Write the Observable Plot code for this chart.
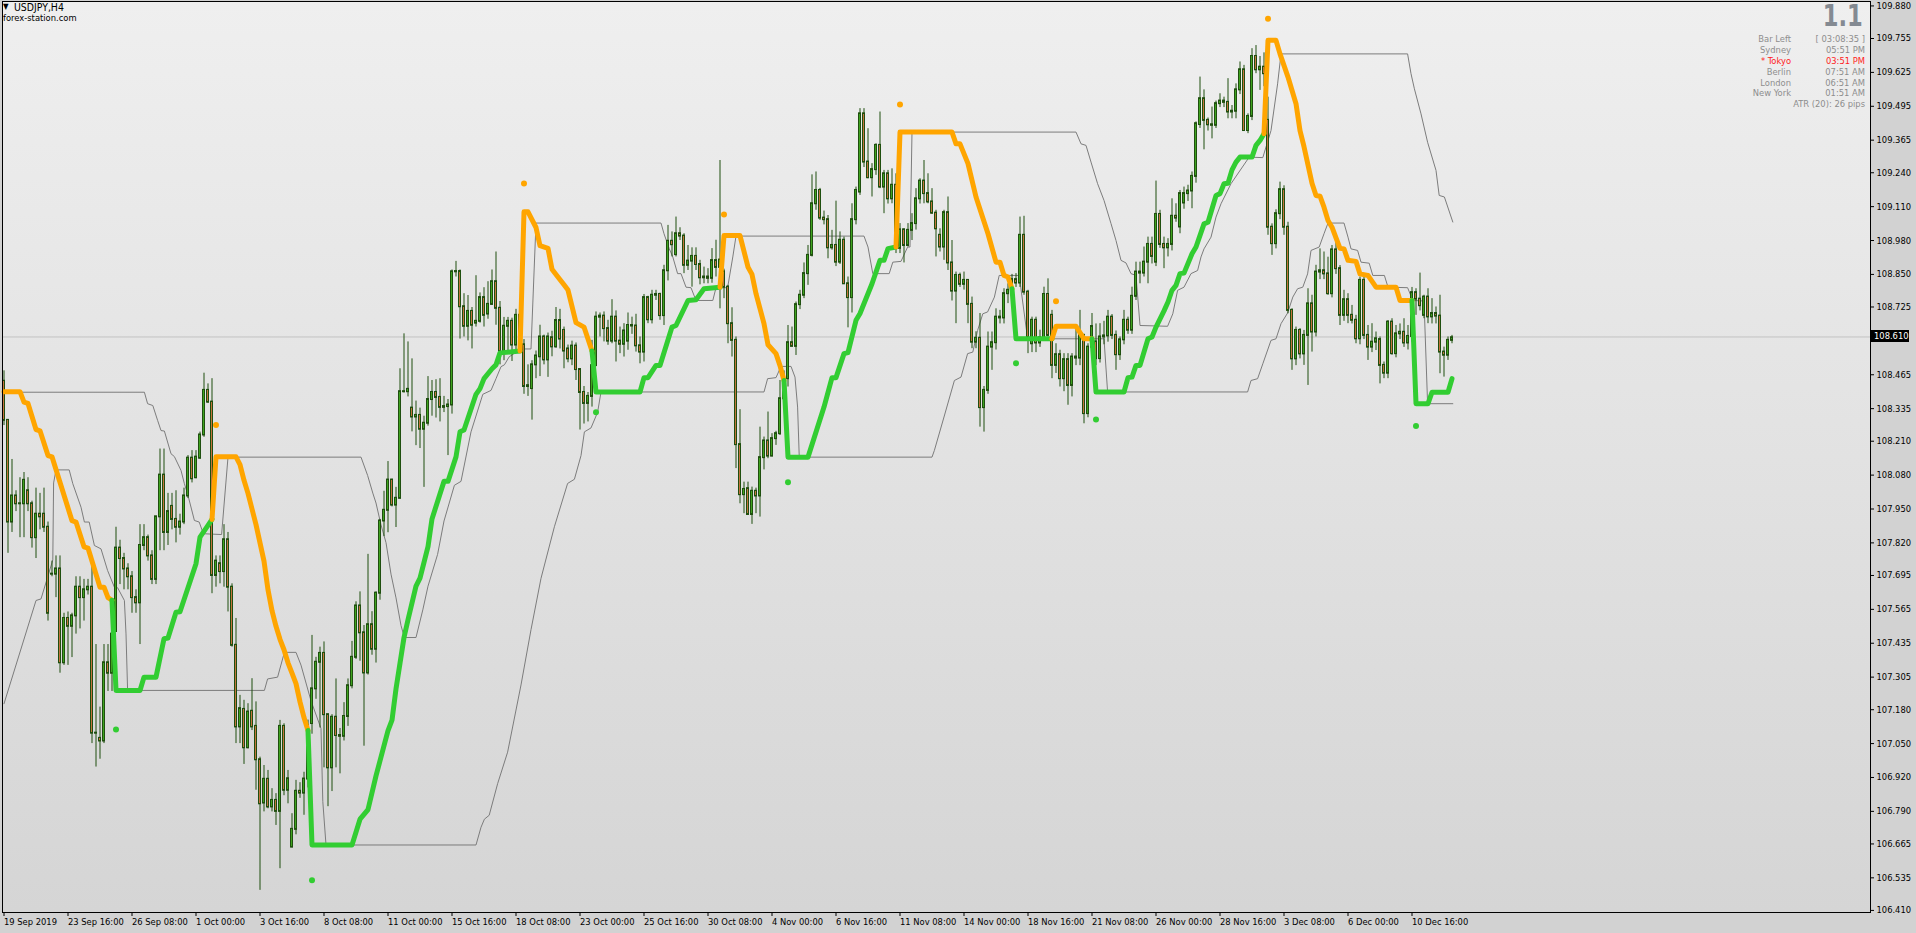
<!DOCTYPE html>
<html><head><meta charset="utf-8">
<script src="https://cdn.jsdelivr.net/npm/d3@7"></script>
<script src="https://cdn.jsdelivr.net/npm/@observablehq/plot@0.6"></script>
<style>
html,body{margin:0;padding:0;background:#d2d2d2;overflow:hidden;}
#wrap{position:relative;width:1916px;height:933px;}
.ov{position:absolute;white-space:nowrap;line-height:1;}
</style></head><body><div id="wrap"></div>
<script>
// ---------- DATA ----------
const symbolTitle = "USDJPY,H4";
const siteName = "forex-station.com";
const lastPrice = 108.610;
const priceTicks = [109.880,109.755,109.625,109.495,109.365,109.240,109.110,108.980,108.850,108.725,108.465,108.335,108.210,108.080,107.950,107.820,107.695,107.565,107.435,107.305,107.180,107.050,106.920,106.790,106.665,106.535,106.410];
const tickBars = [0,16,32,48,64,80,96,112,128,144,160,176,192,208,224,240,256,272,288,304,320,336,352];
const dateLabels = ["19 Sep 2019","23 Sep 16:00","26 Sep 08:00","1 Oct 00:00","3 Oct 16:00","8 Oct 08:00","11 Oct 00:00","15 Oct 16:00","18 Oct 08:00","23 Oct 00:00","25 Oct 16:00","30 Oct 08:00","4 Nov 00:00","6 Nov 16:00","11 Nov 08:00","14 Nov 00:00","18 Nov 16:00","21 Nov 08:00","26 Nov 00:00","28 Nov 16:00","3 Dec 08:00","6 Dec 00:00","10 Dec 16:00"];

const opens = [
108.44,108.29,107.90,108.00,107.97,107.97,108.02,107.97,107.84,107.93,
107.93,107.88,107.70,107.70,107.72,107.36,107.53,107.50,107.54,107.65,
107.61,107.64,107.65,107.09,107.07,107.06,107.36,107.32,107.48,107.80,
107.76,107.72,107.69,107.61,107.59,107.81,107.84,107.77,107.68,107.92,
108.08,107.86,107.96,107.91,107.88,107.90,108.00,108.145,108.07,108.145,
108.234,108.405,108.36,107.695,107.74,107.71,107.832,107.65,107.427,107.114,
107.181,107.034,107.174,107.116,106.988,106.822,106.913,106.807,106.832,106.79,
107.116,106.871,106.653,106.721,106.867,106.86,106.914,107.127,107.26,107.362,
107.396,107.161,106.957,107.151,107.081,107.078,107.154,107.272,107.381,107.578,
107.475,107.321,107.506,107.412,107.627,107.904,107.945,108.061,107.965,107.991,
108.40,108.40,108.337,108.303,108.309,108.256,108.279,108.37,108.397,108.378,
108.34,108.343,108.349,108.86,108.861,108.726,108.651,108.708,108.663,108.67,
108.761,108.698,108.735,108.822,108.72,108.556,108.651,108.67,108.579,108.693,
108.58,108.42,108.412,108.503,108.534,108.61,108.522,108.607,108.572,108.673,
108.635,108.564,108.526,108.575,108.485,108.397,108.355,108.382,108.50,108.686,
108.69,108.642,108.594,108.686,108.594,108.582,108.594,108.654,108.652,108.576,
108.552,108.761,108.676,108.77,108.773,108.692,108.864,108.977,108.926,109.006,
108.997,108.885,108.901,108.919,108.888,108.837,108.84,108.835,108.903,108.877,
108.86,108.801,108.661,108.597,108.197,108.005,108.028,107.929,108.018,108.0,
108.147,108.211,108.153,108.22,108.239,108.373,108.45,108.588,108.574,108.734,
108.77,108.853,108.923,109.121,109.172,109.066,109.06,108.952,108.961,108.897,
108.981,108.814,108.761,109.06,109.166,109.466,109.281,109.221,109.252,109.345,
109.185,109.236,109.14,109.192,108.95,109.021,108.961,109.019,109.045,109.14,
109.208,109.16,109.128,109.085,109.0,108.955,109.087,108.894,108.786,108.846,
108.812,108.827,108.735,108.59,108.605,108.339,108.405,108.571,108.588,108.686,
108.683,108.776,108.789,108.83,108.817,109.0,108.782,108.584,108.674,108.587,
108.607,108.773,108.693,108.501,108.542,108.45,108.523,108.424,108.533,108.529,
108.616,108.316,108.571,108.591,108.527,108.61,108.614,108.686,108.616,108.542,
108.599,108.674,108.636,108.766,108.859,108.855,108.897,108.965,108.897,109.08,
108.965,108.952,108.965,109.073,109.032,109.124,109.16,109.17,109.226,109.425,
109.524,109.441,109.424,109.422,109.505,109.515,109.51,109.473,109.476,109.558,
109.635,109.402,109.456,109.686,109.635,109.645,109.441,109.031,108.968,109.083,
109.175,109.031,108.712,108.526,108.635,108.545,108.616,108.737,108.629,108.859,
108.864,108.852,108.776,108.944,108.872,108.693,108.753,108.693,108.674,108.603,
108.827,108.616,108.571,108.59,108.60,108.501,108.471,108.667,108.546,108.622,
108.628,108.587,108.612,108.78,108.755,108.693,108.763,108.687,108.70,108.69,
108.552,108.54,108.597];

const highs = [
108.48,108.29,108.14,108.02,108.07,108.09,108.07,107.98,108.03,108.01,
108.03,107.90,107.75,107.77,107.77,107.55,107.555,107.55,107.69,107.69,
107.68,107.68,107.75,107.43,107.19,107.43,107.43,107.51,107.88,107.83,
107.78,107.74,107.71,107.64,107.89,107.89,107.85,107.79,107.92,108.18,
108.18,108.01,108.01,108.02,107.93,108.03,108.155,108.174,108.174,108.245,
108.471,108.43,108.45,107.77,107.77,107.89,107.86,107.663,107.53,107.235,
107.216,107.203,107.299,107.21,106.998,106.966,106.947,106.877,106.858,107.139,
107.126,106.947,106.781,106.909,106.90,106.94,107.14,107.465,107.381,107.42,
107.44,107.161,107.161,107.298,107.108,107.207,107.298,107.442,107.594,107.632,
107.503,107.776,107.556,107.632,107.91,108.018,108.132,108.064,108.033,108.488,
108.622,108.591,108.526,108.364,108.337,108.306,108.458,108.443,108.446,108.45,
108.382,108.37,108.867,108.90,108.867,108.776,108.769,108.723,108.845,108.779,
108.799,108.822,108.867,108.936,108.746,108.685,108.685,108.682,108.716,108.75,
108.60,108.503,108.519,108.556,108.655,108.617,108.625,108.632,108.723,108.716,
108.648,108.579,108.594,108.587,108.488,108.42,108.397,108.597,108.706,108.702,
108.706,108.674,108.753,108.71,108.648,108.661,108.702,108.686,108.697,108.61,
108.773,108.766,108.789,108.789,108.778,108.885,109.038,109.013,109.07,109.029,
109.006,108.961,108.952,108.952,108.904,108.878,108.872,108.949,108.981,109.287,
108.87,108.808,108.722,108.61,108.331,108.053,108.053,108.034,108.03,108.264,
108.226,108.322,108.239,108.248,108.443,108.48,108.654,108.648,108.744,108.789,
108.894,108.961,109.232,109.243,109.18,109.093,109.076,109.019,109.131,109.013,
108.993,108.84,109.121,109.185,109.486,109.486,109.409,109.275,109.351,109.473,
109.249,109.249,109.255,109.236,109.045,109.025,109.045,109.083,109.179,109.217,
109.287,109.236,109.179,109.096,109.025,109.096,109.147,108.98,108.859,108.855,
108.859,108.827,108.763,108.63,108.70,108.42,108.629,108.629,108.718,108.712,
108.795,108.814,108.85,108.853,109.07,109.073,108.789,108.686,108.686,108.636,
108.801,108.833,108.712,108.584,108.559,108.546,108.546,108.546,108.642,108.712,
108.62,108.584,108.70,108.66,108.661,108.67,108.712,108.696,108.633,108.61,
108.712,108.686,108.801,108.897,108.897,108.955,108.993,108.993,109.208,109.096,
108.993,108.987,109.14,109.121,109.172,109.185,109.192,109.243,109.435,109.607,
109.558,109.45,109.492,109.515,109.543,109.53,109.601,109.498,109.581,109.665,
109.652,109.466,109.716,109.728,109.686,109.70,109.53,109.044,109.098,109.204,
109.19,109.05,108.718,108.648,108.642,108.635,108.795,108.77,108.885,108.948,
108.936,108.916,108.961,108.974,108.884,108.789,108.776,108.731,108.693,108.84,
108.84,108.654,108.661,108.629,108.61,108.514,108.673,108.68,108.654,108.66,
108.68,108.654,108.80,108.795,108.855,108.77,108.795,108.757,108.725,108.77,
108.571,108.61,108.616];

const lows = [
108.27,107.78,107.86,107.94,107.84,107.84,107.94,107.80,107.76,107.87,
107.86,107.52,107.69,107.61,107.32,107.35,107.35,107.38,107.47,107.49,
107.52,107.62,107.05,106.96,106.99,107.05,107.25,107.25,107.48,107.66,
107.64,107.64,107.55,107.55,107.43,107.79,107.75,107.66,107.66,107.79,
107.79,107.81,107.87,107.82,107.85,107.89,107.99,108.05,108.066,108.14,
108.225,108.355,107.625,107.65,107.663,107.65,107.555,107.42,107.05,107.05,
106.97,107.03,107.10,106.871,106.487,106.788,106.80,106.788,106.736,106.57,
106.85,106.819,106.65,106.70,106.84,106.775,106.88,107.086,107.22,107.11,
106.957,106.808,106.866,106.957,106.934,107.06,107.116,107.26,107.373,107.366,
107.04,107.313,107.389,107.359,107.60,107.844,107.859,107.958,107.879,107.988,
108.395,108.38,108.246,108.193,108.182,108.033,108.268,108.306,108.299,108.284,
108.32,108.155,108.314,108.84,108.602,108.61,108.595,108.564,108.648,108.663,
108.648,108.678,108.731,108.655,108.503,108.519,108.556,108.516,108.549,108.55,
108.39,108.382,108.291,108.45,108.458,108.503,108.455,108.534,108.567,108.564,
108.488,108.511,108.50,108.443,108.253,108.276,108.284,108.341,108.50,108.61,
108.591,108.578,108.584,108.514,108.546,108.533,108.559,108.62,108.552,108.507,
108.514,108.661,108.66,108.75,108.674,108.654,108.825,108.917,108.917,108.98,
108.853,108.865,108.801,108.865,108.81,108.814,108.814,108.816,108.84,108.718,
108.757,108.584,108.533,108.105,107.97,107.932,107.926,107.891,107.932,107.919,
108.10,108.143,108.15,108.194,108.232,108.34,108.418,108.571,108.539,108.715,
108.757,108.808,108.917,109.096,109.057,109.04,108.91,108.943,108.88,108.888,
108.812,108.645,108.702,109.04,109.153,109.26,109.217,109.147,109.23,109.179,
109.083,109.12,109.121,108.93,108.93,108.894,108.955,108.98,109.02,109.12,
109.121,109.121,109.08,108.917,108.936,108.904,108.865,108.748,108.661,108.80,
108.79,108.661,108.565,108.565,108.264,108.245,108.39,108.482,108.56,108.66,
108.66,108.738,108.76,108.80,108.80,108.77,108.546,108.55,108.55,108.57,
108.60,108.61,108.45,108.47,108.418,108.40,108.348,108.38,108.50,108.50,
108.277,108.30,108.55,108.50,108.51,108.58,108.59,108.60,108.482,108.52,
108.58,108.62,108.62,108.75,108.814,108.84,108.814,108.89,108.88,108.95,
108.872,108.917,108.94,109.05,109.006,109.10,109.13,109.102,109.20,109.41,
109.328,109.40,109.37,109.41,109.49,109.49,109.447,109.447,109.447,109.54,
109.40,109.39,109.44,109.62,109.556,109.57,109.0,108.923,108.948,109.06,
109.0,108.699,108.482,108.50,108.526,108.501,108.424,108.552,108.61,108.83,
108.83,108.77,108.76,108.85,108.654,108.67,108.661,108.66,108.584,108.58,
108.60,108.52,108.55,108.558,108.43,108.45,108.45,108.54,108.53,108.60,
108.57,108.56,108.59,108.693,108.71,108.68,108.661,108.66,108.66,108.469,
108.456,108.52,108.584];

const closes = [
108.29,107.90,108.00,107.97,107.97,108.06,107.97,107.84,107.93,107.92,
107.88,107.55,107.70,107.72,107.36,107.53,107.50,107.54,107.65,107.61,
107.64,107.65,107.09,107.09,107.06,107.36,107.32,107.47,107.80,107.76,
107.72,107.69,107.61,107.59,107.81,107.84,107.77,107.68,107.92,108.08,
107.86,107.94,107.91,107.88,107.90,108.00,108.145,108.066,108.149,108.234,
108.405,108.36,107.695,107.75,107.71,107.832,107.65,107.427,107.114,107.184,
107.034,107.171,107.114,106.988,106.819,106.913,106.807,106.832,106.79,107.116,
106.871,106.915,106.721,106.867,106.86,106.914,107.12,107.26,107.362,107.396,
107.161,106.957,107.151,107.081,107.078,107.154,107.272,107.381,107.578,107.475,
107.321,107.506,107.412,107.627,107.904,107.945,108.061,107.965,107.991,108.40,
108.40,108.409,108.303,108.309,108.256,108.279,108.37,108.397,108.378,108.34,
108.343,108.349,108.86,108.861,108.726,108.651,108.708,108.655,108.67,108.761,
108.693,108.735,108.822,108.72,108.556,108.651,108.67,108.579,108.693,108.58,
108.42,108.423,108.503,108.537,108.61,108.522,108.61,108.572,108.673,108.602,
108.556,108.526,108.575,108.485,108.397,108.355,108.382,108.50,108.686,108.69,
108.642,108.594,108.686,108.594,108.582,108.633,108.654,108.652,108.576,108.552,
108.761,108.676,108.77,108.773,108.692,108.864,108.977,108.964,109.006,108.997,
108.885,108.901,108.919,108.888,108.837,108.84,108.835,108.903,108.877,108.905,
108.801,108.661,108.597,108.197,108.005,108.025,107.929,108.018,108.0,108.147,
108.211,108.153,108.22,108.239,108.373,108.45,108.588,108.574,108.734,108.77,
108.853,108.923,109.121,109.172,109.066,109.06,108.952,108.961,108.897,108.981,
108.814,108.761,109.06,109.172,109.466,109.281,109.221,109.252,109.345,109.185,
109.236,109.14,109.192,108.95,109.021,108.961,109.019,109.045,109.14,109.208,
109.16,109.128,109.085,109.025,108.955,109.087,108.894,108.786,108.846,108.812,
108.827,108.735,108.59,108.605,108.339,108.405,108.571,108.588,108.686,108.683,
108.776,108.789,108.83,108.817,109.0,108.782,108.61,108.674,108.587,108.607,
108.773,108.616,108.501,108.542,108.45,108.523,108.424,108.533,108.529,108.616,
108.316,108.571,108.65,108.527,108.61,108.614,108.686,108.616,108.542,108.599,
108.674,108.636,108.766,108.859,108.855,108.897,108.965,108.919,109.08,108.965,
108.952,108.965,109.073,109.066,109.16,109.16,109.17,109.226,109.428,109.524,
109.441,109.424,109.422,109.505,109.515,109.51,109.473,109.476,109.558,109.635,
109.402,109.456,109.686,109.635,109.645,109.62,109.031,108.968,109.083,109.175,
109.031,108.712,108.526,108.635,108.545,108.616,108.737,108.629,108.859,108.864,
108.852,108.776,108.944,108.872,108.693,108.753,108.693,108.674,108.603,108.827,
108.616,108.571,108.59,108.603,108.501,108.471,108.667,108.546,108.622,108.628,
108.587,108.612,108.78,108.755,108.73,108.763,108.687,108.70,108.69,108.552,
108.54,108.597,108.607];

// trailing stop line: [bar, price] vertices, by leg
const down1 = [[0,108.40],[4,108.40],[5,108.36],[6,108.355],[8,108.255],[9,108.25],[11,108.155],[12,108.15],[17,107.905],[18,107.90],[20,107.805],[21,107.80],[24,107.65],[25,107.65],[26,107.61],[27,107.60]];
const up1 = [[27,107.60],[28,107.254],[34,107.254],[35,107.305],[38,107.305],[40,107.452],[41,107.455],[43,107.554],[44,107.556],[48,107.74],[49,107.842],[51,107.887],[52,107.91]];
const down2 = [[52,107.91],[53,108.15],[58,108.15],[59,108.12],[60,108.06],[61,108.01],[62,107.95],[63,107.89],[64,107.82],[65,107.75],[66,107.64],[67,107.56],[68,107.50],[69,107.45],[70,107.41],[71,107.36],[72,107.32],[73,107.28],[74,107.21],[75,107.15],[76,107.10]];
const up2 = [[76,107.10],[77,106.661],[87,106.661],[89,106.76],[91,106.797],[93,106.926],[96,107.10],[97,107.14],[98,107.26],[100,107.457],[101,107.525],[103,107.654],[104,107.685],[106,107.806],[107,107.912],[110,108.056],[111,108.056],[113,108.15],[114,108.246],[115,108.253],[118,108.39],[119,108.412],[120,108.45],[122,108.488],[123,108.503],[124,108.549],[129,108.556]];
const down3 = [[129,108.556],[130,109.09],[131,109.09],[133,109.03],[134,108.96],[136,108.95],[137,108.87],[138,108.85],[140,108.81],[141,108.79],[143,108.665],[145,108.648],[147,108.556]];
const up3 = [[147,108.556],[148,108.399],[159,108.399],[160,108.454],[161,108.454],[163,108.501],[164,108.501],[167,108.648],[168,108.654],[171,108.75],[173,108.753],[175,108.795],[179,108.801]];
const down4 = [[179,108.801],[180,108.999],[184,108.999],[186,108.878],[187,108.85],[188,108.776],[190,108.661],[191,108.58],[193,108.546],[194,108.50],[195,108.443]];
const up4 = [[195,108.443],[196,108.149],[201,108.149],[205,108.341],[207,108.454],[208,108.454],[210,108.546],[211,108.55],[213,108.674],[214,108.70],[217,108.814],[219,108.904],[220,108.904],[221,108.949],[223,108.955]];
const down5 = [[223,108.955],[224,109.396],[237,109.396],[238,109.351],[239,109.351],[241,109.275],[243,109.147],[246,109.006],[248,108.897],[249,108.897],[250,108.846],[251,108.84],[252,108.795]];
const up5 = [[252,108.795],[253,108.603],[262,108.603]];
const down6 = [[262,108.603],[263,108.651],[268,108.651],[270,108.603],[272,108.603]];
const up6 = [[272,108.603],[273,108.399],[280,108.399],[281,108.454],[282,108.456],[283,108.501],[284,108.501],[286,108.603],[287,108.61],[288,108.648],[290,108.71],[291,108.744],[292,108.789],[293,108.808],[294,108.853],[295,108.855],[297,108.929],[298,108.955],[300,109.044],[301,109.05],[303,109.153],[304,109.16],[305,109.198],[306,109.20],[307,109.251],[308,109.281],[309,109.30],[312,109.30],[313,109.345],[314,109.364],[315,109.39]];
const down7 = [[315,109.39],[316,109.748],[318,109.748],[319,109.696],[321,109.607],[323,109.505],[324,109.402],[325,109.34],[327,109.2],[328,109.153],[329,109.15],[330,109.108],[331,109.057],[332,109.031],[333,108.99],[334,108.95],[335,108.948],[336,108.904],[338,108.90],[339,108.852],[341,108.846],[343,108.801],[348,108.801],[349,108.75],[352,108.75]];
const up7 = [[352,108.75],[353,108.354],[356,108.354],[357,108.398],[361,108.398],[362,108.45]];

const signalDown = [[53,108.272],[130,109.199],[180,109.08],[224,109.502],[263,108.747],[316,109.831]];
const signalUp = [[28,107.104],[77,106.526],[148,108.321],[196,108.053],[253,108.509],[273,108.293],[353,108.268]];

const channelUpper = [[0,108.398],[35.1,108.398],[35.9,108.354],[37.2,108.347],[38.4,108.29],[39.25,108.251],[40.1,108.249],[41.75,108.162],[42.6,108.151],[44.25,108.098],[45.1,108.047],[45.9,108.008],[47.6,107.906],[48.8,107.90],[49.7,107.861],[50,107.855],[54.4,107.852],[56,108.149],[89.25,108.149],[90.9,108.079],[92.2,108.011],[93,107.973],[94.25,107.889],[95.5,107.821],[96.75,107.70],[98,107.609],[99.25,107.503],[100.1,107.457],[103,107.457],[104.7,107.563],[106,107.654],[108.4,107.776],[110,107.904],[112.6,108.041],[114.25,108.056],[116.75,108.246],[119.7,108.39],[121.75,108.405],[123,108.45],[124.25,108.496],[125.1,108.503],[126.3,108.534],[129.25,108.564],[131.75,108.564],[133,109.047],[164.25,109.047],[165,109.006],[166.3,108.949],[167.2,108.917],[168.4,108.853],[169.25,108.853],[170.5,108.801],[171.75,108.799],[173,108.75],[177.2,108.75],[178,108.799],[180.9,108.799],[182.2,108.917],[183,108.997],[215,108.997],[216,108.955],[217.2,108.853],[221.3,108.853],[222.2,108.897],[224.25,108.90],[225.9,108.955],[226.5,108.955],[227,109.396],[268,109.396],[269.25,109.351],[270.5,109.345],[271.75,109.281],[273.4,109.198],[275,109.134],[276.75,109.045],[278,108.98],[279.25,108.904],[280.5,108.894],[281.75,108.853],[283,108.846],[284,108.654],[290.9,108.651],[292.2,108.699],[293.4,108.789],[295,108.801],[296.75,108.853],[298.4,108.865],[299.25,108.917],[300,108.948],[301.75,108.993],[303,109.07],[304.25,109.121],[306.75,109.198],[311.3,109.30],[314.7,109.298],[316.75,109.402],[318.4,109.581],[319.25,109.696],[350.9,109.696],[351.75,109.62],[352.6,109.562],[354.25,109.466],[355.9,109.357],[358,109.249],[358.8,109.153],[360.1,109.147],[362.2,109.051]];
const channelLower = [[0,107.203],[8,107.599],[9.25,107.605],[10.9,107.688],[12.2,107.755],[12.4,108.05],[13,108.10],[16.3,108.10],[17.2,108.047],[19.25,107.957],[20.1,107.90],[21.3,107.90],[22.6,107.81],[24.25,107.797],[25.9,107.714],[27.6,107.65],[28.4,107.648],[30.1,107.599],[30.5,107.471],[30.9,107.254],[65.1,107.254],[65.9,107.298],[68.4,107.305],[70.1,107.40],[73,107.40],[74.25,107.351],[76.75,107.214],[79.25,107.108],[79.7,106.828],[80.5,106.661],[118,106.661],[119.25,106.729],[120.1,106.76],[121.3,106.775],[123.4,106.896],[125.9,107.017],[129.25,107.275],[131.75,107.487],[134.25,107.684],[137.6,107.882],[140.9,108.048],[142.6,108.064],[144.25,108.155],[145.1,108.246],[146.75,108.261],[148.4,108.321],[149.25,108.399],[190,108.399],[190.9,108.45],[193,108.454],[194.25,108.497],[196.75,108.497],[197.75,108.456],[198.4,108.341],[198.8,108.156],[199.25,108.149],[232,108.149],[232.6,108.175],[235,108.303],[237.6,108.443],[239.25,108.456],[240.9,108.546],[242.2,108.552],[243.4,108.635],[244.7,108.699],[245.9,108.706],[247.6,108.763],[248.8,108.846],[253.8,108.846],[255.9,108.603],[275,108.603],[275.9,108.399],[310.9,108.399],[311.75,108.443],[313.4,108.45],[314.7,108.507],[316.75,108.597],[318,108.603],[319.25,108.661],[320.9,108.702],[322.2,108.763],[323.4,108.795],[324.7,108.801],[325.9,108.852],[326.75,108.942],[328.8,108.955],[330,109.006],[331,109.047],[335,109.047],[336,108.993],[336.75,108.948],[338.4,108.942],[339.25,108.897],[341.3,108.893],[342.2,108.846],[345.1,108.846],[346,108.801],[350.9,108.799],[352.2,108.75],[355,108.748],[355.9,108.354],[362.2,108.354]];

const infoNames = ["Bar Left","Sydney","* Tokyo","Berlin","London","New York"];
const infoValues = ["[ 03:08:35 ]","05:51 PM","03:51 PM","07:51 AM","06:51 AM","01:51 AM"];
const infoHighlight = [false,false,true,false,false,false];
const atrText = "ATR (20): 26 pips";
const spreadText = "1.1";

// ---------- STYLE ----------
const C = {orange:"#ffa500", green:"#32cd32", wick:"#1f4f0f", bull:"#3fa31f", bear:"#c4733c", gray:"#7c7c7c", info:"#8d8d8d", red:"#ff1c1c"};
function fontOK(name){
  const ctx=document.createElement("canvas").getContext("2d");
  const s="109.880 Sep 16:00 wmi";
  ctx.font="40px monospace"; const a=ctx.measureText(s).width;
  ctx.font=`40px "${name}", monospace`; const b=ctx.measureText(s).width;
  return Math.abs(a-b)>0.5;
}
let FF, FS;
if (fontOK("Liberation Sans Narrow")) {FF='"Liberation Sans Narrow", sans-serif'; FS=11;}
else if (fontOK("DejaVu Sans Condensed")) {FF='"DejaVu Sans Condensed", sans-serif'; FS=9.3;}
else {FF='"Liberation Sans", Arial, sans-serif'; FS=9.4;}
const BIG = 30;

// ---------- BUILD ----------
const bars = d3.range(opens.length).map(i => ({i, o:opens[i], h:highs[i], l:lows[i], c:closes[i]}));
const legs = [[down1,"down"],[up1,"up"],[down2,"down"],[up2,"up"],[down3,"down"],[up3,"up"],[down4,"down"],[up4,"up"],[down5,"down"],[up5,"up"],[down6,"down"],[up6,"up"],[down7,"down"],[up7,"up"]];
const trendRows = legs.flatMap(([pts,dir],k) => pts.map(([i,p]) => ({i,p,k,col: dir==="up"?C.green:C.orange})));
const dotRows = signalDown.map(([i,p])=>({i,p,col:C.orange})).concat(signalUp.map(([i,p])=>({i,p,col:C.green})));

const W=1916, H=933, mL=2, mR=46, mT=1, mB=21;
const marks = [
  Plot.frame({fill:"url(#bgGrad)", stroke:null}),
  Plot.ruleY([lastPrice], {stroke:"#c2c2c2", strokeWidth:1}),
  Plot.line(channelUpper, {x:d=>d[0], y:d=>d[1], stroke:C.gray, strokeWidth:1}),
  Plot.line(channelLower, {x:d=>d[0], y:d=>d[1], stroke:C.gray, strokeWidth:1}),
  Plot.ruleX(bars, {x:"i", y1:d=>Math.min(d.l,d.o,d.c), y2:d=>Math.max(d.h,d.o,d.c), stroke:C.wick, strokeWidth:1}),
  Plot.rect(bars, {x1:d=>d.i-0.25, x2:d=>d.i+0.25, y1:"o", y2:"c", insetTop:-0.5, insetBottom:-0.5, fill:d=>d.c>=d.o?C.bull:C.bear, stroke:C.wick, strokeWidth:1}),
  Plot.line(trendRows, {x:"i", y:"p", z:"k", stroke:"col", strokeWidth:5, strokeLinejoin:"round", strokeLinecap:"round"}),
  Plot.dot(dotRows, {x:"i", y:"p", fill:"col", r:3, stroke:null}),
  Plot.frame({stroke:"#000", strokeWidth:1})
];
const useAxisMarks = typeof Plot.axisX === "function";
if (useAxisMarks) {
  marks.push(Plot.axisY(priceTicks, {anchor:"right", tickSize:3, tickPadding:3, tickFormat:d=>d.toFixed(3), label:null, stroke:"#000"}));
  marks.push(Plot.axisX(tickBars, {anchor:"bottom", tickSize:4, tickPadding:2, textAnchor:"start", tickFormat:d=>dateLabels[tickBars.indexOf(d)], label:null, stroke:"#000"}));
}
const chart = Plot.plot({
  width:W, height:H, marginLeft:mL, marginRight:mR, marginTop:mT, marginBottom:mB,
  x:{type:"linear", domain:[-0.375, 466.625], ...(useAxisMarks?{axis:null}:{axis:"bottom", ticks:tickBars, tickSize:4, tickPadding:2, tickFormat:d=>dateLabels[tickBars.indexOf(d)], label:null})},
  y:{type:"linear", domain:[106.402, 109.897], ...(useAxisMarks?{axis:null}:{axis:"right", ticks:priceTicks, tickSize:3, tickPadding:3, tickFormat:d=>d.toFixed(3), label:null})},
  style:{background:"#d2d2d2", fontFamily:FF, fontSize:FS+"px", color:"#000", overflow:"visible"},
  marks
});
const ns="http://www.w3.org/2000/svg";
const defs=document.createElementNS(ns,"defs");
defs.innerHTML='<linearGradient id="bgGrad" x1="0" y1="0" x2="0" y2="1"><stop offset="0" stop-color="#efefef"/><stop offset="1" stop-color="#d5d5d5"/></linearGradient>';
chart.insertBefore(defs, chart.firstChild);
chart.style.maxWidth="none";
const wrap=document.getElementById("wrap");
wrap.appendChild(chart);

// ---------- TEXT OVERLAYS ----------
function addText(txt, css){const d=document.createElement("div");d.className="ov";d.textContent=txt;Object.assign(d.style,{fontFamily:FF,fontSize:FS+"px"},css);wrap.appendChild(d);return d;}
addText("\u25BC", {left:"3px", top:"3px", fontSize:"8px", color:"#000"});
addText(symbolTitle, {left:"14px", top:"2px", fontSize:(FS*1.12)+"px", color:"#000"});
addText(siteName, {left:"3px", top:"13px", color:"#000"});
// big spread value, right edge at x=1863, kept fully inside the top edge
const big = addText(spreadText, {right:"53px", top:"1px", fontSize:BIG+"px", fontWeight:"bold", color:"#848a92", transformOrigin:"100% 50%"});
const bw = big.getBoundingClientRect().width;
if (bw > 40) big.style.transform = `scaleX(${(40/bw).toFixed(3)})`;
const rowY=[39,50,60.7,71.7,82.7,93.3];
infoNames.forEach((n,k)=>{
  const col = infoHighlight[k]?C.red:C.info;
  addText(n, {right:"125px", top:(rowY[k]-FS/2-0.5)+"px", color:col});
  addText(infoValues[k], {right:"51px", top:(rowY[k]-FS/2-0.5)+"px", color:col});
});
addText(atrText, {right:"51px", top:(104.5-FS/2-0.5)+"px", color:C.info});
const yp = chart.scale("y").apply(lastPrice);
addText(lastPrice.toFixed(3), {left:"1871px", top:(yp-6)+"px", height:"12px", lineHeight:"12px", width:"38px", paddingLeft:"3px", boxSizing:"border-box", background:"#000", color:"#fff"});
</script></body></html>
